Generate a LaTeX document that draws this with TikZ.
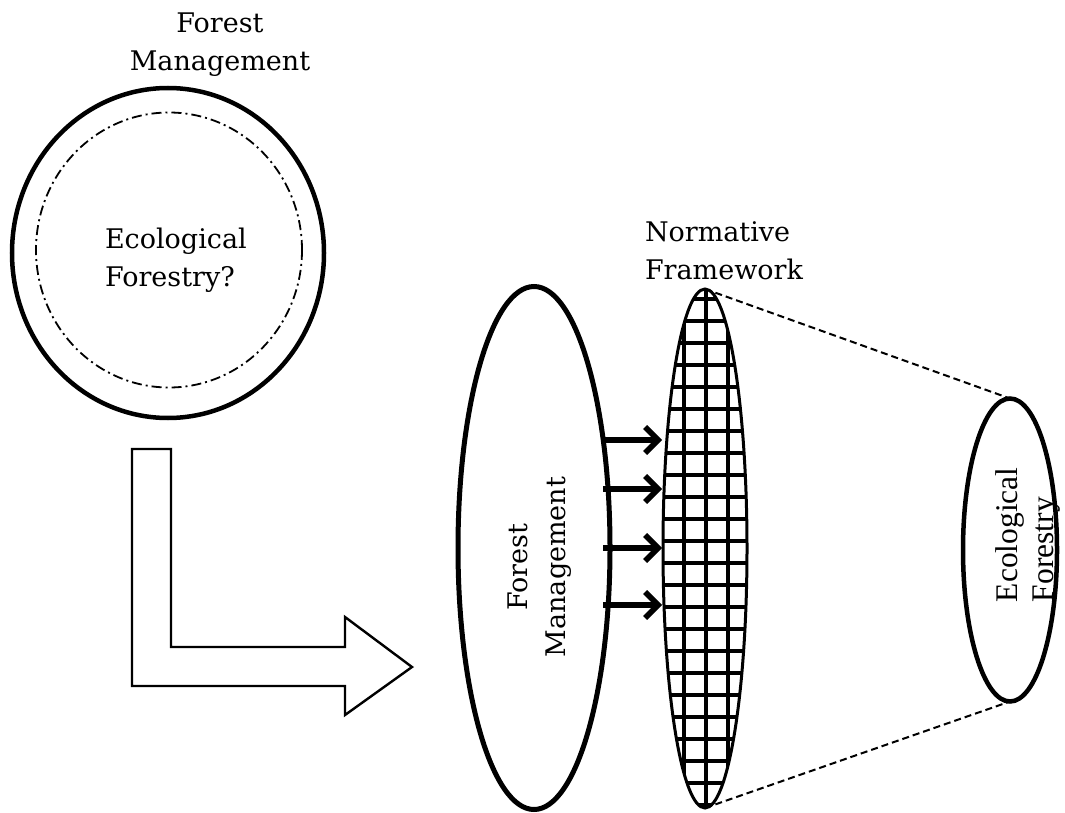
\documentclass[tikz,border=0pt]{standalone}
\usepackage{fontspec}
\setmainfont{DejaVu Serif}
\newfontfamily\timesfont{Liberation Serif}
\usetikzlibrary{shapes.geometric,arrows.meta}
\begin{document}
\begin{tikzpicture}[x=1pt,y=-1pt,
  lbl/.style={font=\fontsize{27}{38}\selectfont, inner sep=0pt, outer sep=0pt},
  oval/.style={ellipse, draw, inner sep=0pt, outer sep=0pt},
  push/.style={line width=5.5pt, -{Straight Barb[length=13pt,width=26pt]}},
  link/.style={line width=2pt, dash pattern=on 7pt off 4pt},
  gridline/.style={line width=3.2pt},
]
\useasboundingbox (0,0) rectangle (1065,813);

% top-left circle
\node[oval, line width=4.5pt, minimum width=312pt, minimum height=330pt] (outer) at (168,253) {};
\node[oval, line width=1.8pt, dash pattern=on 10pt off 4pt on 2pt off 4pt,
      minimum width=266pt, minimum height=275pt] (inner) at (169,250) {};
\node[lbl, align=center, anchor=north] (toplbl) at (220,13) {Forest\\Management};
\node[lbl, align=left, anchor=north west] (innerlbl) at (105,227.5) {Ecological\\Forestry?};

% L-shaped block arrow
\draw[line width=2.4pt, line join=miter, fill=white]
  (132,449) -- (171,449) -- (171,647) -- (345,647) -- (345,617) -- (412,667)
  -- (345,715) -- (345,686) -- (132,686) -- cycle;

% forest management ellipse
\node[oval, line width=5pt, minimum width=152pt, minimum height=523pt] (fm) at (534,548) {};
\node[lbl, align=center, anchor=north, rotate=90] (fmlbl) at (508,567) {Forest\\Management};

% normative framework (grid ellipse)
\begin{scope}
  \clip (705,548.5) ellipse [x radius=42pt, y radius=259.5pt];
  \foreach \gx in {662,684,706,728,750}
    \draw[gridline] (\gx,270) -- (\gx,830);
  \foreach \k in {0,...,25}
    \draw[gridline] (650,277+22*\k) -- (760,277+22*\k);
\end{scope}
\node[oval, line width=3pt, minimum width=84pt, minimum height=519pt] (nf) at (705,548.5) {};
\node[lbl, align=left, anchor=north west] (nflbl) at (645,222) {Normative\\Framework};

% ecological forestry ellipse
\node[oval, line width=4.5pt, minimum width=94pt, minimum height=303pt] (ef) at (1010,550) {};
\node[inner sep=0pt, outer sep=0pt, font=\timesfont\fontsize{31.5}{36}\selectfont,
      align=left, anchor=north west, rotate=90] (eflbl) at (995.5,602) {Ecological\\Forestry};

% dashed projection lines
\draw[link] (nf.north) -- (ef.north);
\draw[link] (nf.south) -- (ef.south);

% arrows
\foreach \i/\yy in {1/440,2/489,3/548,4/605}{
  \coordinate (s\i) at (603,\yy);
  \coordinate (t\i) at (662,\yy);
  \draw[push] (s\i) -- (t\i);
}
\end{tikzpicture}
\end{document}
